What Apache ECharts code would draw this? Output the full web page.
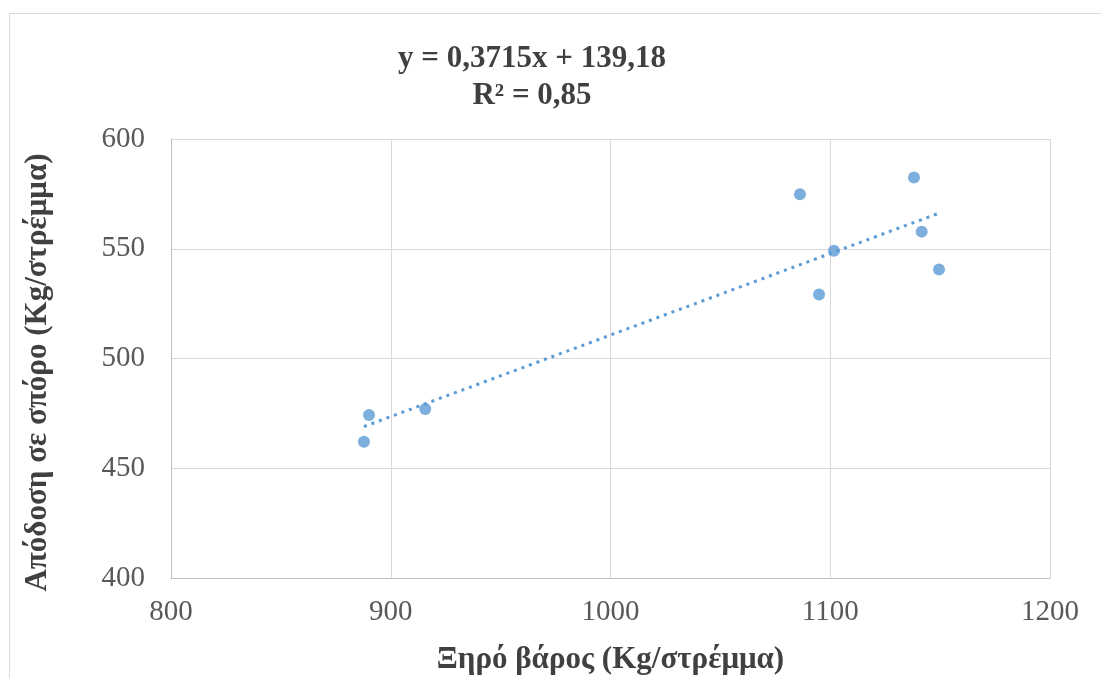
<!DOCTYPE html>
<html>
<head>
<meta charset="utf-8">
<script src="https://cdn.jsdelivr.net/npm/echarts@6/dist/echarts.min.js"></script>
<style>
html,body{margin:0;padding:0;background:#fff;}
#chart{width:1101px;height:678px;}
</style>
</head>
<body>
<div id="chart"></div>
<script>
// Data
const dryWeight = [887.8, 890.1, 915.7, 1086.2, 1094.9, 1101.7, 1138.1, 1141.6, 1149.5];
const seedYield = [462.1, 474.3, 477.0, 574.8, 529.2, 549.1, 582.5, 557.8, 540.6];
const trendSlope = 0.3715;
const trendIntercept = 139.18;
const equationLines = ['y = 0,3715x + 139,18', 'R² = 0,85'];
const xAxisTitle = 'Ξηρό βάρος (Kg/στρέμμα)';
const yAxisTitle = 'Απόδοση σε σπόρο (Kg/στρέμμα)';
const xTicks = [800, 900, 1000, 1100, 1200];
const yTicks = [400, 450, 500, 550, 600];

const points = dryWeight.map((x, i) => [x, seedYield[i]]);
const xMin = Math.min(...dryWeight), xMax = Math.max(...dryWeight);
const trend = [[xMin, trendSlope * xMin + trendIntercept], [xMax, trendSlope * xMax + trendIntercept]];

const chart = echarts.init(document.getElementById('chart'));
const serif = '"Liberation Serif", "DejaVu Serif", serif';
chart.setOption({
  backgroundColor: '#ffffff',
  animation: false,
  graphic: [
    { type: 'rect', shape: { x: 9.5, y: 13.5, width: 1200, height: 800 }, style: { fill: 'none', stroke: '#d9d9d9', lineWidth: 1 }, z: -10 },
    { type: 'text', x: 532, y: 59, style: { text: equationLines[0], font: 'bold 31px ' + serif, fill: '#404040', align: 'center', verticalAlign: 'middle' } },
    { type: 'text', x: 532, y: 96, style: { text: equationLines[1], font: 'bold 31px ' + serif, fill: '#404040', align: 'center', verticalAlign: 'middle' } }
  ],
  grid: { left: 171, right: 51, top: 139, bottom: 100, containLabel: false, outerBoundsMode: 'none' },
  xAxis: {
    type: 'value', min: xTicks[0], max: xTicks[xTicks.length - 1], interval: 100,
    name: xAxisTitle, nameLocation: 'middle', nameGap: 66,
    nameTextStyle: { fontFamily: serif, fontWeight: 'bold', fontSize: 31, color: '#404040' },
    axisLine: { show: true, lineStyle: { color: '#bfbfbf' } },
    axisTick: { show: false },
    axisLabel: { fontFamily: serif, fontSize: 29, color: '#595959', margin: 20, formatter: v => String(v) },
    splitLine: { show: true, lineStyle: { color: '#d9d9d9' } }
  },
  yAxis: {
    type: 'value', min: yTicks[0], max: yTicks[yTicks.length - 1], interval: 50,
    name: yAxisTitle, nameLocation: 'middle', nameGap: 118,
    nameTextStyle: { fontFamily: serif, fontWeight: 'bold', fontSize: 31, color: '#404040', padding: [0, 28, 0, 0] },
    axisLine: { show: true, lineStyle: { color: '#bfbfbf' } },
    axisTick: { show: false },
    axisLabel: { fontFamily: serif, fontSize: 29, color: '#595959', margin: 26, formatter: v => String(v) },
    splitLine: { show: true, lineStyle: { color: '#d9d9d9' } }
  },
  series: [
    {
      type: 'line', data: trend, symbol: 'none', silent: true,
      lineStyle: { color: '#5b9bd5', width: 3, type: [3, 5] }, z: 1
    },
    {
      type: 'scatter', data: points, symbol: 'circle', symbolSize: 12,
      itemStyle: { color: '#5b9bd5' }, z: 2
    }
  ]
});
</script>
</body>
</html>
